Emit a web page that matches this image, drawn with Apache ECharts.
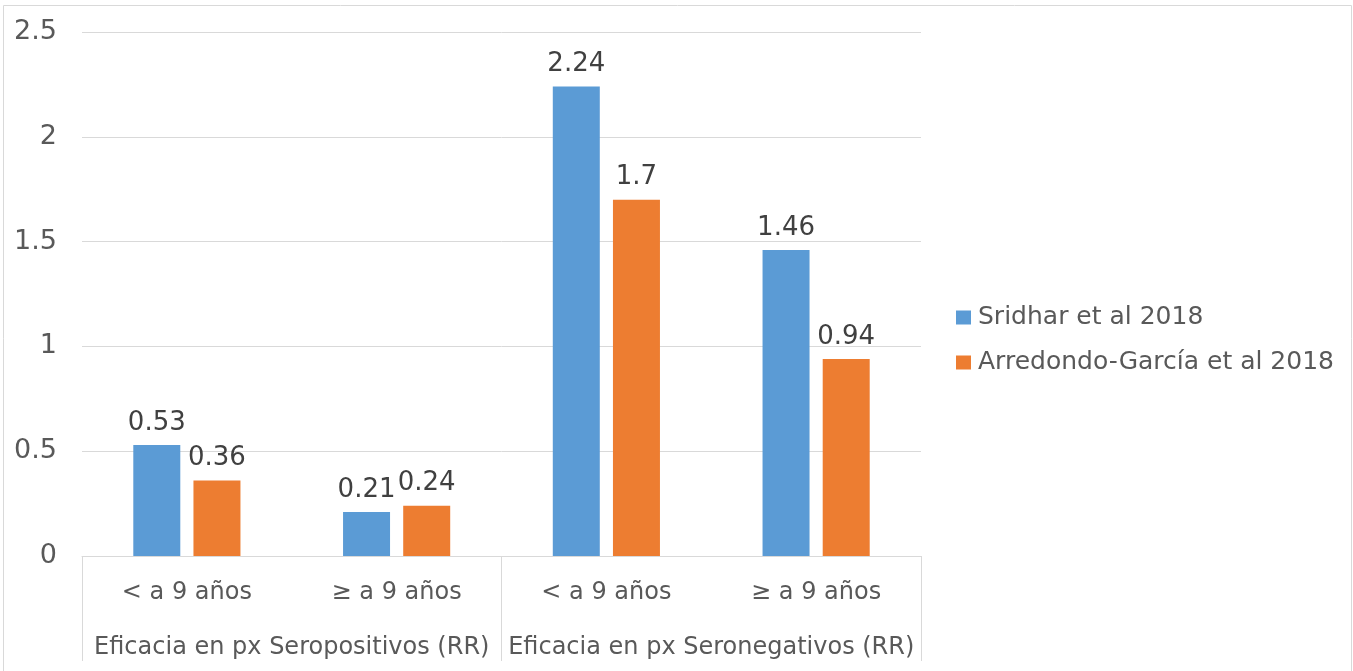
<!DOCTYPE html>
<html>
<head>
<meta charset="utf-8">
<script src="https://cdn.jsdelivr.net/npm/echarts@6/dist/echarts.min.js"></script>
<style>
html,body{margin:0;padding:0;background:#fff;}
#c{width:1353px;height:671px;}
</style>
</head>
<body>
<div id="c"></div>
<script>
const categories = ['< a 9 años', '≥ a 9 años', '< a 9 años', '≥ a 9 años'];
const groups = ['Eficacia en px Seropositivos (RR)', 'Eficacia en px Seronegativos (RR)'];
const seriesNames = ['Sridhar et al 2018', 'Arredondo-García et al 2018'];
const sridhar = [0.53, 0.21, 2.24, 1.46];
const arredondo = [0.36, 0.24, 1.7, 0.94];
const colors = ['#5B9BD5', '#ED7D31'];

const FONT = "'DejaVu Sans ExtraLight', 'DejaVu Sans'";
const TXT = '#595959';
const LINE = '#d9d9d9';

const chart = echarts.init(document.getElementById('c'), null, {renderer: 'canvas'});

function barSeries(name, data, color) {
  return {
    name: name,
    type: 'bar',
    xAxisIndex: 0,
    data: data,
    barWidth: 47,
    barGap: '28%',
    itemStyle: {color: color},
    label: {
      show: true,
      position: 'top',
      distance: 9,
      color: '#404040',
      fontFamily: FONT,
      fontSize: 26
    }
  };
}

chart.setOption({
  animation: false,
  color: colors,
  graphic: [{
    type: 'rect',
    shape: {x: 3.5, y: 5.5, width: 1348, height: 700},
    style: {fill: 'none', stroke: LINE, lineWidth: 1},
    silent: true
  }],
  grid: {left: 82, right: 432, top: 32, bottom: 115},
  legend: {
    orient: 'vertical',
    left: 951,
    top: 300,
    itemWidth: 15,
    itemHeight: 14,
    itemGap: 20,
    icon: 'rect',
    data: seriesNames,
    textStyle: {color: TXT, fontFamily: FONT, fontSize: 25, padding: [0, 0, 0, 2]}
  },
  xAxis: [{
    type: 'category',
    position: 'bottom',
    data: categories,
    axisLine: {show: true, lineStyle: {color: LINE, width: 1}},
    axisTick: {show: false},
    axisLabel: {interval: 0, margin: 25, color: TXT, fontFamily: FONT, fontSize: 24},
    splitLine: {show: false}
  }, {
    type: 'category',
    position: 'bottom',
    gridIndex: 0,
    data: groups,
    axisLine: {show: false},
    axisTick: {show: true, length: 105, lineStyle: {color: LINE, width: 1}},
    axisLabel: {interval: 0, margin: 80, color: TXT, fontFamily: FONT, fontSize: 24},
    splitLine: {show: false}
  }],
  yAxis: {
    type: 'value',
    min: 0,
    max: 2.5,
    interval: 0.5,
    axisLine: {show: false},
    axisTick: {show: false},
    axisLabel: {margin: 25, color: TXT, fontFamily: FONT, fontSize: 27},
    splitLine: {lineStyle: {color: LINE, width: 1}}
  },
  series: [
    barSeries(seriesNames[0], sridhar, colors[0]),
    barSeries(seriesNames[1], arredondo, colors[1])
  ]
});
</script>
</body>
</html>
